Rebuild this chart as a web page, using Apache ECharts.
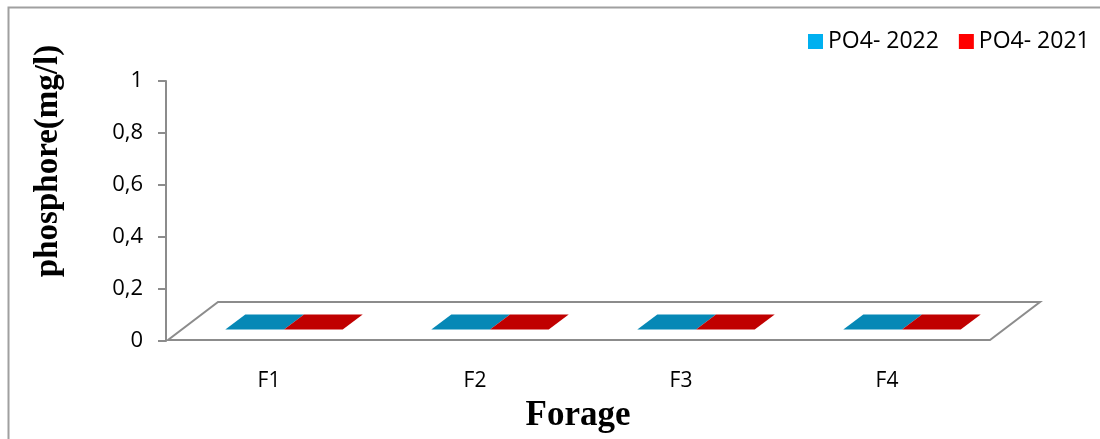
<!DOCTYPE html>
<html>
<head>
<meta charset="utf-8">
<style>
  html, body { margin: 0; padding: 0; background: #fff; }
  #chart { width: 1100px; height: 439px; }
</style>
<script src="https://cdn.jsdelivr.net/npm/echarts@6/dist/echarts.min.js"></script>
</head>
<body>
<div id="chart"></div>
<script>
// data: every bar sits on the floor (value 0)
var categories = ['F1', 'F2', 'F3', 'F4'];
var po4_2022 = [0, 0, 0, 0];
var po4_2021 = [0, 0, 0, 0];
var yMin = 0, yMax = 1, yStep = 0.2;

// depth of the fake 3d floor, in pixels
var DEPTH_X = 50, DEPTH_Y = 38;
var BAR_FRONT = 0.3, BAR_BACK = 0.7;

function toItems(values) {
    return values.map(function (v, i) { return [i, v]; });
}

/**
 * 3d-ish bar: front face, right side and top face
 * @param {Number} slot -1 for left bar of the pair, 0 for right one
 */
function barRenderer(slot, topColor, frontColor, sideColor) {
    return function (params, api) {
        var i = api.value(0), v = api.value(1);
        var base = api.coord([i, 0]);
        var peak = api.coord([i, v]);
        var w = api.size([1, 0])[0] * 0.285;
        var xl = base[0] + slot * w, xr = xl + w;
        var dx1 = DEPTH_X * BAR_FRONT, dy1 = -DEPTH_Y * BAR_FRONT;
        var dx2 = DEPTH_X * BAR_BACK, dy2 = -DEPTH_Y * BAR_BACK;
        var by = base[1], py = peak[1];
        return {
            type: 'group',
            children: [{
                type: 'polygon',
                shape: { points: [[xl + dx1, by + dy1], [xr + dx1, by + dy1], [xr + dx1, py + dy1], [xl + dx1, py + dy1]] },
                style: { fill: frontColor }
            }, {
                type: 'polygon',
                shape: { points: [[xr + dx1, by + dy1], [xr + dx2, by + dy2], [xr + dx2, py + dy2], [xr + dx1, py + dy1]] },
                style: { fill: sideColor }
            }, {
                type: 'polygon',
                shape: { points: [[xl + dx1, py + dy1], [xr + dx1, py + dy1], [xr + dx2, py + dy2], [xl + dx2, py + dy2]] },
                style: { fill: topColor }
            }]
        };
    };
}

function floorRenderer(params, api) {
    var cs = params.coordSys;
    var y0 = api.coord([0, 0])[1] - 1;
    var x0 = cs.x + 2, x1 = cs.x + cs.width;
    return {
        type: 'polygon',
        shape: { points: [[x0, y0], [x1, y0], [x1 + DEPTH_X, y0 - DEPTH_Y], [x0 + DEPTH_X, y0 - DEPTH_Y]] },
        style: { fill: '#fff', stroke: '#8c8c8c', lineWidth: 2 }
    };
}

var myChart = echarts.init(document.getElementById('chart'));
myChart.setOption({
    animation: false,
    backgroundColor: '#fff',
    grid: { left: 166, right: 110, top: 81, bottom: 98 },
    legend: {
        left: 803, top: 25,
        itemWidth: 15, itemHeight: 15, itemGap: 20,
        icon: 'rect',
        textStyle: { fontFamily: 'Open Sans', fontSize: 23, color: '#000' },
        data: ['PO4- 2022', 'PO4- 2021']
    },
    xAxis: {
        type: 'category',
        data: categories,
        axisLine: { show: false },
        axisTick: { show: false },
        axisLabel: { margin: 30, fontFamily: 'Open Sans', fontSize: 21, color: '#000' },
        name: 'Forage',
        nameLocation: 'middle',
        nameGap: 57,
        nameTextStyle: { fontFamily: 'Liberation Serif', fontWeight: 'bold', fontSize: 35, color: '#000' }
    },
    yAxis: {
        type: 'value',
        min: yMin, max: yMax, interval: yStep,
        axisLine: { show: true, lineStyle: { color: '#8c8c8c', width: 2 } },
        axisTick: { show: true, length: 8, lineStyle: { color: '#8c8c8c', width: 2 } },
        splitLine: { show: false },
        axisLabel: {
            margin: 23, fontFamily: 'Open Sans', fontSize: 22, color: '#000',
            formatter: function (v) { return String(+v.toFixed(1)).replace('.', ','); }
        }
    },
    graphic: [{
        type: 'rect', left: 6, top: 5, silent: true,
        shape: { width: 1200, height: 600 },
        style: { fill: 'none', stroke: '#a0a0a0', lineWidth: 2 }
    }, {
        type: 'text', x: 48, y: 161, rotation: Math.PI / 2,
        style: {
            text: 'phosphore(mg/l)', fill: '#000',
            font: 'bold 33px "Liberation Serif"',
            align: 'center', verticalAlign: 'middle'
        }
    }],
    series: [{
        type: 'custom', name: 'floor', z: 1, silent: true,
        renderItem: floorRenderer,
        data: [[0, 0]]
    }, {
        type: 'custom', name: 'PO4- 2022', z: 2,
        itemStyle: { color: '#00b0f0' },
        renderItem: barRenderer(-1, '#0688b6', '#009ed8', '#0077a0'),
        encode: { x: 0, y: 1 },
        data: toItems(po4_2022)
    }, {
        type: 'custom', name: 'PO4- 2021', z: 2,
        itemStyle: { color: '#ff0000' },
        renderItem: barRenderer(0, '#c00000', '#e00000', '#a00000'),
        encode: { x: 0, y: 1 },
        data: toItems(po4_2021)
    }]
});
</script>
</body>
</html>
